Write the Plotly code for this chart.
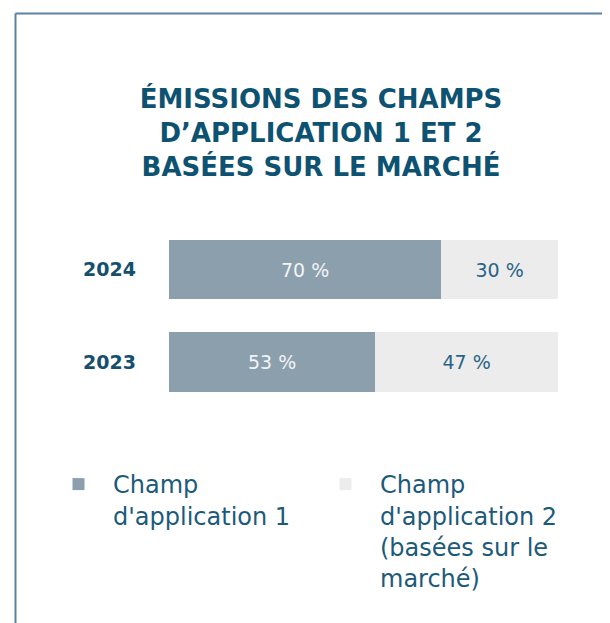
import plotly.graph_objects as go

years = ["2023", "2024"]
scope1 = [53, 70]
scope2 = [47, 30]
scope1_labels = ["53 %", "70 %"]
scope2_labels = ["47 %", "30 %"]
series_names = [
    "Champ<br>d'application 1",
    "Champ<br>d'application 2<br>(basées sur le<br>marché)",
]
title_text = "ÉMISSIONS DES CHAMPS<br>D’APPLICATION 1 ET 2<br>BASÉES SUR LE MARCHÉ"

W, H = 610, 623
TEAL = "#0e5272"
FONT = "DejaVu Sans"

fig = go.Figure()
fig.add_trace(go.Bar(
    y=years, x=scope1, orientation="h", name=series_names[0],
    marker=dict(color="#8c9fad", line=dict(width=0)),
    text=scope1_labels, textposition="inside", insidetextanchor="middle",
    textfont=dict(color="#f2f4f6", size=19, family=FONT),
    hoverinfo="skip",
))
fig.add_trace(go.Bar(
    y=years, x=scope2, orientation="h", name=series_names[1],
    marker=dict(color="#ececec", line=dict(width=0)),
    text=scope2_labels, textposition="inside", insidetextanchor="middle",
    textfont=dict(color="#2a6485", size=19, family=FONT),
    hoverinfo="skip",
))

y_top_px, y_bot_px = 215.25, 400.25
fig.update_layout(
    width=W, height=H,
    margin=dict(l=0, r=0, t=0, b=0),
    paper_bgcolor="white", plot_bgcolor="white",
    barmode="stack", bargap=0.362,
    showlegend=True,
    title=dict(text=title_text, x=313 / W, xanchor="center",
               y=1 - 100 / H, yanchor="middle", yref="container",
               font=dict(family=FONT, size=26, color=TEAL, weight="bold")),
    xaxis=dict(domain=[161 / W, 550 / W], range=[0, 100], visible=False,
               fixedrange=True),
    yaxis=dict(domain=[1 - y_bot_px / H, 1 - y_top_px / H], range=[-0.5, 1.5],
               showgrid=False, zeroline=False, showline=False, ticks="",
               ticklabelstandoff=32,
               tickfont=dict(family=FONT, size=19, color="#164f6e", weight="bold"),
               automargin=False, fixedrange=True),
    legend=dict(orientation="h", x=36 / W, xanchor="left", y=1 - 454 / H, yanchor="top",
                traceorder="normal", itemwidth=59, entrywidth=193, entrywidthmode="pixels",
                valign="top",
                font=dict(family=FONT, size=24, color="#1c5a7a"),
                bgcolor="rgba(0,0,0,0)", itemclick=False, itemdoubleclick=False),
    shapes=[
        dict(type="line", xref="paper", yref="paper", x0=7.5 / W, x1=1, y0=1 - 5.5 / H, y1=1 - 5.5 / H,
             line=dict(color="#5d81a0", width=2)),
        dict(type="line", xref="paper", yref="paper", x0=7.5 / W, x1=7.5 / W, y0=0, y1=1 - 5.5 / H,
             line=dict(color="#5d81a0", width=2)),
    ],
)

fig.write_html("out.html")
